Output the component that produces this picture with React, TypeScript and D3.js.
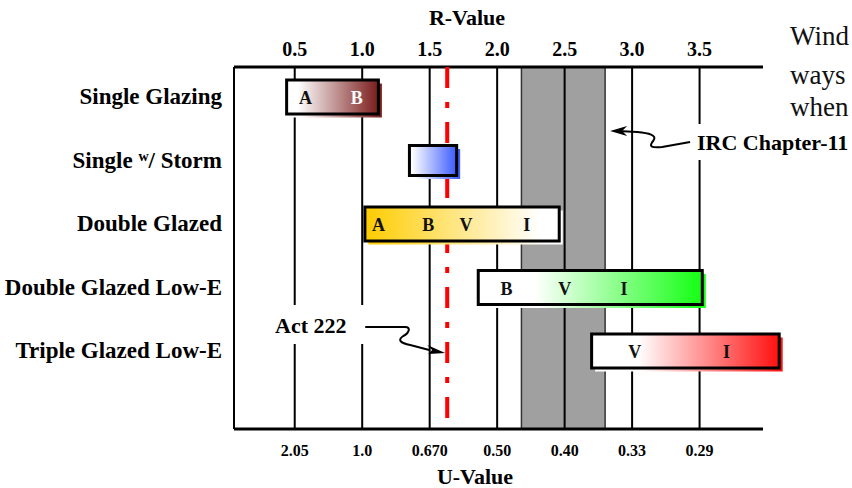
import React from "react";
import * as d3 from "d3";

// ---- data ----
const rows = ["Single Glazing", "Single w/ Storm", "Double Glazed", "Double Glazed Low-E", "Triple Glazed Low-E"];
const rStart = [0.44, 1.35, 1.02, 1.86, 2.7];
const rEnd = [1.12, 1.7, 2.46, 3.52, 4.09];
const barColors = ["#7b1c1c", "#3b5bff", "#ffcc00", "#14ff14", "#ff1010"];
const colorAtStart = [false, false, true, false, false];
const letterText = [["A", "B"], [], ["A", "B", "V", "I"], ["B", "V", "I"], ["V", "I"]];
const letterR = [[0.58, 0.96], [], [1.12, 1.49, 1.77, 2.22], [2.07, 2.5, 2.94], [3.02, 3.7]];
const letterColors = [["#111", "#fff"], [], ["#111", "#111", "#111", "#111"], ["#111", "#111", "#111"], ["#111", "#111"]];
const rTicks = [0.5, 1.0, 1.5, 2.0, 2.5, 3.0, 3.5];
const rTickLabels = ["0.5", "1.0", "1.5", "2.0", "2.5", "3.0", "3.5"];
const uTickLabels = ["2.05", "1.0", "0.670", "0.50", "0.40", "0.33", "0.29"];
const codeBand = [2.18, 2.8]; // IRC Chapter-11
const act222R = 1.63;
const rDomain = [0.05, 3.97];
const sideText = ["Wind", "ways", "when"];

const W = 852;
const H = 488;
const FONT = '"Liberation Serif", "Times New Roman", Times, serif';

export default function App() {
  const top = 67;
  const bottom = 429;
  const x = d3.scaleLinear().domain(rDomain).range([234, 763]);
  const y = d3.scalePoint<string>().domain(rows).range([97, 351]);
  const barH = 34;
  const shadow = 3.5;

  const ircTip = { x: x(codeBand[1]) + 5, y: 131 };
  const actTip = { x: x(act222R) - 2, y: 353 };
  const tx = ircTip.x, ty = ircTip.y;
  const ax = actTip.x, ay = actTip.y;

  return (
    <svg width={W} height={H} style={{ position: "absolute", left: 0, top: 0, background: "#fff" }} fontFamily={FONT}>
      <defs>
        {rows.map((r, i) => (
          <linearGradient key={i} id={`g${i}`} x1="0" x2="1" y1="0" y2="0">
            {colorAtStart[i] ? (
              <>
                <stop offset="0" stopColor={barColors[i]} />
                <stop offset="0.9" stopColor="#ffffff" />
              </>
            ) : (
              <>
                <stop offset="0" stopColor="#ffffff" />
                <stop offset={i === 0 ? "0.12" : i === 1 ? "0.05" : "0.25"} stopColor="#ffffff" />
                <stop offset="1" stopColor={barColors[i]} />
              </>
            )}
          </linearGradient>
        ))}
      </defs>
      <rect width={W} height={H} fill="#fff" />

      {/* IRC band */}
      <rect x={x(codeBand[0])} y={top} width={x(codeBand[1]) - x(codeBand[0])} height={bottom - top} fill="#a0a0a0" stroke="#333" strokeWidth={1.5} />

      {/* gridlines */}
      {rTicks.map((t, i) => (
        <line key={i} x1={x(t)} x2={x(t)} y1={top} y2={bottom} stroke="#000" strokeWidth={2} />
      ))}
      {/* frame */}
      <line x1={x(rDomain[0])} x2={x(rDomain[0])} y1={top} y2={bottom} stroke="#000" strokeWidth={2} />
      <line x1={x(rDomain[0])} x2={x(rDomain[1])} y1={top} y2={top} stroke="#000" strokeWidth={3} />
      <line x1={x(rDomain[0])} x2={x(rDomain[1])} y1={bottom} y2={bottom} stroke="#000" strokeWidth={3} />

      {/* Act 222 line */}
      <line x1={x(act222R)} x2={x(act222R)} y1={top} y2={bottom} stroke="#ff0000" strokeWidth={4} strokeDasharray="21 14 6 14" />

      {/* annotation backgrounds */}
      <rect x={268} y={305} width={100} height={39} fill="#fff" />
      <rect x={690} y={124} width={162} height={36} fill="#fff" />

      {/* bars */}
      {rows.map((r, i) => {
        const yc = y(r)!;
        const h = i === 1 ? 30 : barH;
        return (
          <g key={r}>
            <rect x={x(rStart[i]) + shadow} y={yc - h / 2 + shadow} width={x(rEnd[i]) - x(rStart[i])} height={h} fill={`url(#g${i})`} />
            <rect x={x(rStart[i])} y={yc - h / 2} width={x(rEnd[i]) - x(rStart[i])} height={h} fill={`url(#g${i})`} stroke="#000" strokeWidth={3} />
            {letterText[i].map((l, j) => (
              <text key={j} x={x(letterR[i][j])} y={yc + 7} textAnchor="middle" fontSize={18} fontWeight="bold" fill={letterColors[i][j]}>
                {l}
              </text>
            ))}
          </g>
        );
      })}

      {/* row labels */}
      {rows.map((r, i) => (
        <text key={r} x={222} y={y(r)! + 7} textAnchor="end" fontSize={23} fontWeight="bold" fill="#000">
          {i === 1 ? (
            <>
              {"Single "}
              <tspan fontSize={14} dy={-7}>w</tspan>
              <tspan dy={7}>{"/ Storm"}</tspan>
            </>
          ) : (
            r
          )}
        </text>
      ))}

      {/* top axis */}
      {rTicks.map((t, i) => (
        <text key={i} x={x(t)} y={56} textAnchor="middle" fontSize={20} fontWeight="bold">
          {rTickLabels[i]}
        </text>
      ))}
      <text x={467} y={25} textAnchor="middle" fontSize={22} fontWeight="bold">R-Value</text>

      {/* bottom axis */}
      {rTicks.map((t, i) => (
        <text key={i} x={x(t)} y={456} textAnchor="middle" fontSize={16} fontWeight="bold">
          {uTickLabels[i]}
        </text>
      ))}
      <text x={475} y={484} textAnchor="middle" fontSize={22} fontWeight="bold">U-Value</text>

      {/* IRC annotation */}
      <path
        d={`M ${tx + 8} ${ty} L ${tx + 27} ${ty + 1} C ${tx + 38} ${ty + 2}, ${tx + 48} ${ty + 4}, ${tx + 43} ${ty + 10} C ${tx + 38} ${ty + 16}, ${tx + 42} ${ty + 17}, ${tx + 52} ${ty + 16} L ${tx + 80} ${ty + 11}`}
        fill="none" stroke="#000" strokeWidth={2}
      />
      <path d={`M ${tx} ${ty} L ${tx + 17} ${ty - 5} L ${tx + 12} ${ty} L ${tx + 17} ${ty + 5} Z`} fill="#000" />
      <text x={697} y={150} fontSize={22} fontWeight="bold">IRC Chapter-11</text>

      {/* Act 222 annotation */}
      <path
        d={`M ${ax - 80} ${ay - 26} L ${ax - 40} ${ay - 26} C ${ax - 34} ${ay - 26}, ${ax - 36} ${ay - 20}, ${ax - 42} ${ay - 17} C ${ax - 48} ${ay - 13}, ${ax - 45} ${ay - 10}, ${ax - 35} ${ay - 8} L ${ax - 16} ${ay - 3}`}
        fill="none" stroke="#000" strokeWidth={2}
      />
      <path d={`M ${ax} ${ay} L ${ax - 18} ${ay - 8} L ${ax - 13} ${ay - 3} L ${ax - 17} ${ay + 1} Z`} fill="#000" />
      <text x={275} y={333} fontSize={22} fontWeight="bold">Act 222</text>

      {/* side text */}
      {sideText.map((s, i) => (
        <text key={i} x={790} y={[45, 84, 116][i]} fontSize={27} fill="#111">
          {s}
        </text>
      ))}
    </svg>
  );
}
